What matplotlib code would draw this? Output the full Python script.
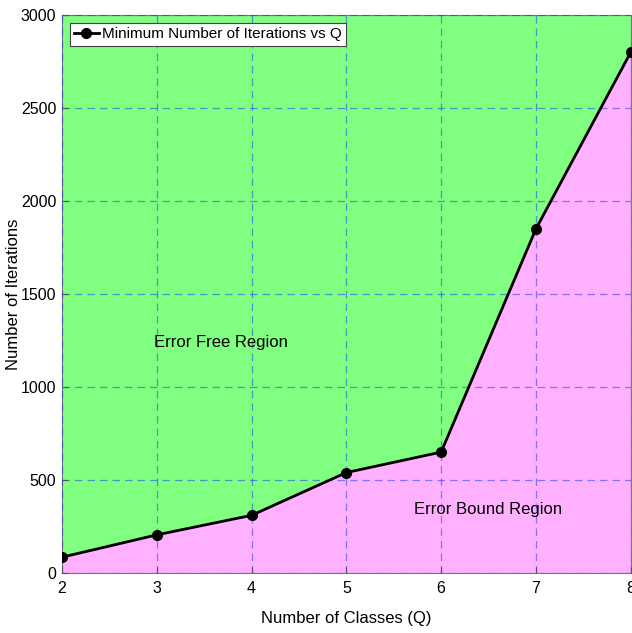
import matplotlib
matplotlib.use("Agg")
import matplotlib.pyplot as plt

classes = [2, 3, 4, 5, 6, 7, 8]
iterations = [85, 205, 310, 540, 650, 1850, 2800]
x_ticks = [2, 3, 4, 5, 6, 7, 8]
y_ticks = [0, 500, 1000, 1500, 2000, 2500, 3000]

plt.rcParams["font.family"] = ["Liberation Sans", "DejaVu Sans"]

fig = plt.figure(figsize=(6.32, 6.33), dpi=100)
ax = fig.add_axes([0.098, 0.0948, 0.9, 0.8815])

ax.fill_between(classes, iterations, 3000, color="#80ff80", lw=0, zorder=1)
ax.fill_between(classes, 0, iterations, color="#ffb0ff", lw=0, zorder=1)

ax.grid(True, color="#1030ff", alpha=0.5, linestyle=(0, (6, 4)), linewidth=0.9, zorder=2)
ax.set_axisbelow(False)

ax.plot(classes, iterations, color="black", lw=2, marker="o", markersize=7,
        label="Minimum Number of Iterations vs Q", zorder=3)

ax.text(3.68, 1237, "Error Free Region", fontsize=12, ha="center", va="center", zorder=4)
ax.text(6.49, 339, "Error Bound Region", fontsize=12, ha="center", va="center", zorder=4)

ax.set_xlim(2, 8)
ax.set_ylim(0, 3000)
ax.set_xticks(x_ticks)
ax.set_yticks(y_ticks)
ax.tick_params(labelsize=11.5, length=4, direction="in", color="#555555")
ax.tick_params(axis="y", pad=4)
ax.tick_params(axis="x", pad=6)
for s in ax.spines.values():
    s.set_color("#777777")
    s.set_linewidth(0.8)

ax.set_xlabel("Number of Classes (Q)", fontsize=12)
ax.xaxis.set_label_coords(0.5, -0.068)
ax.set_ylabel("Number of Iterations", fontsize=12)
ax.yaxis.set_label_coords(-0.072, 0.5)

leg = ax.legend(loc="upper left", fontsize=11, frameon=True, fancybox=False,
                edgecolor="#444444", framealpha=1, borderaxespad=0.5,
                handlelength=1.6, handletextpad=0.2, borderpad=0.3)
leg.get_frame().set_linewidth(0.8)

fig.savefig("out.png", dpi=100)
